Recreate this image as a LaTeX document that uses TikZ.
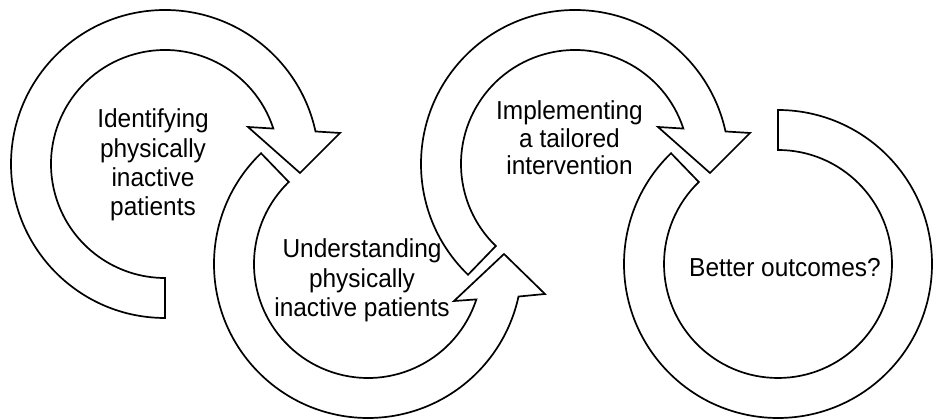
\documentclass[tikz,border=0pt]{standalone}
\usepackage{fontspec}
\setmainfont[FakeStretch=0.94]{Liberation Sans}
\begin{document}
\begin{tikzpicture}[x=1pt,y=1pt,
  band/.style={draw=black, fill=white, line width=1.7pt, line join=miter},
  lbl/.style={align=center, font=\fontsize{26}{29.3}\selectfont, inner sep=0pt}]
\useasboundingbox (0,0) rectangle (935,419);
% arrow 1
\draw[band, shift={(165,255)}] (270:154) arc[start angle=270, end angle=12.2, radius=154]
  -- (175,31) -- (135,-9) -- (83,37) -- (18.1:114)
  arc[start angle=18.1, end angle=270, radius=114] -- cycle;
% arrow 2
\draw[band, shift={(368,155)}] (134:154) arc[start angle=134, end angle=347.8, radius=154]
  -- (177,-30) -- (136,10) -- (86,-37) -- (341.9:114)
  arc[start angle=341.9, end angle=134, radius=114] -- cycle;
% arrow 3
\draw[band, shift={(575,255)}] (226:154) arc[start angle=226, end angle=12.2, radius=154]
  -- (175,31) -- (135,-9) -- (83,37) -- (18.1:114)
  arc[start angle=18.1, end angle=226, radius=114] -- cycle;
% arrow 4
\draw[band, shift={(778,155)}] (134:154) arc[start angle=134, end angle=450, radius=154]
  -- (450:114) arc[start angle=450, end angle=134, radius=114] -- cycle;
\node[lbl] (identify) at (153,253.8) {Identifying\\physically\\inactive\\patients};
\node[lbl, font=\fontsize{26}{29.5}\selectfont] (understand) at (362,138.3) {Understanding\\physically\\inactive patients};
\node[lbl, font=\fontsize{26}{27.5}\selectfont] (implement) at (569.5,281) {Implementing\\a tailored\\intervention};
\node[lbl] (better) at (785,151.5) {Better outcomes?};
\end{tikzpicture}
\end{document}
